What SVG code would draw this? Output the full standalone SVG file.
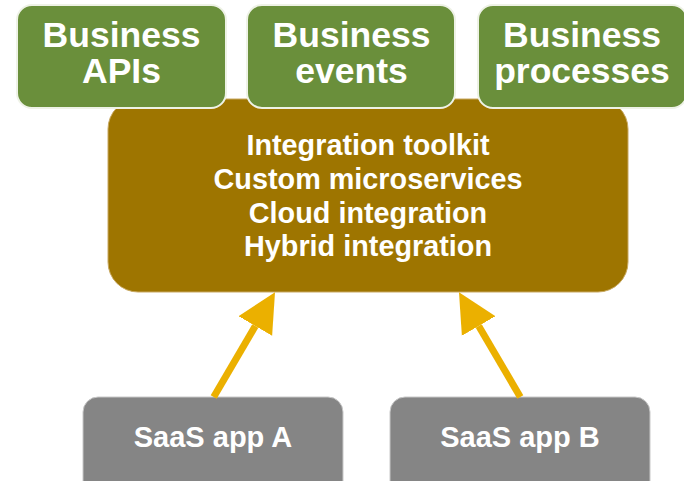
<svg xmlns="http://www.w3.org/2000/svg" width="684" height="481" viewBox="0 0 684 481">
  <defs>
    <style>
      .green { fill: #6a8f3b; stroke: #eef2e6; stroke-width: 2; }
      .brown { fill: #9e7500; stroke: #c8a860; stroke-width: 1; }
      .gray { fill: #858585; stroke: #c8c8c8; stroke-width: 1; }
      .t { font-family: "Liberation Sans", Arial, sans-serif; font-weight: bold; fill: #ffffff; text-anchor: middle; }
      .tg { font-size: 35.5px; }
      .tb { font-size: 28.8px; }
      .ts { font-size: 29px; }
      .conn { stroke: #ebb000; stroke-width: 7; fill: none; marker-end: url(#ah); }
    </style>
    <marker id="ah" markerUnits="userSpaceOnUse" markerWidth="40" markerHeight="40" viewBox="0 -20 40 40" refX="0" refY="0" orient="auto">
      <path d="M0,-19.5 L39,0 L0,19.5 Z" fill="#ebb000"/>
    </marker>
  </defs>

  <g id="integration">
    <rect class="brown" x="108" y="99" width="520" height="193" rx="30" ry="30"/>
    <text class="t tb" x="368" y="155">Integration toolkit</text>
    <text class="t tb" x="368" y="189">Custom microservices</text>
    <text class="t tb" x="368" y="223">Cloud integration</text>
    <text class="t tb" x="368" y="256">Hybrid integration</text>
  </g>

  <g id="business-apis">
    <rect class="green" x="17" y="5" width="209" height="103" rx="15" ry="15"/>
    <text class="t tg" x="121.5" y="47">Business</text>
    <text class="t tg" x="121.5" y="83">APIs</text>
  </g>

  <g id="business-events">
    <rect class="green" x="247" y="5" width="208" height="103" rx="15" ry="15"/>
    <text class="t tg" x="351.5" y="47">Business</text>
    <text class="t tg" x="351.5" y="83">events</text>
  </g>

  <g id="business-processes">
    <rect class="green" x="478" y="5" width="209" height="103" rx="15" ry="15"/>
    <text class="t tg" x="582" y="47">Business</text>
    <text class="t tg" x="582" y="83">processes</text>
  </g>

  <g id="saas-a">
    <rect class="gray" x="83" y="397" width="260" height="100" rx="15" ry="15"/>
    <text class="t ts" x="213" y="447">SaaS app A</text>
  </g>

  <g id="saas-b">
    <rect class="gray" x="390" y="397" width="260" height="100" rx="15" ry="15"/>
    <text class="t ts" x="520" y="447">SaaS app B</text>
  </g>

  <g id="connectors">
    <line class="conn" x1="213.7" y1="397" x2="255.3" y2="326"/>
    <line class="conn" x1="520.3" y1="397" x2="478.7" y2="326"/>
  </g>
</svg>
